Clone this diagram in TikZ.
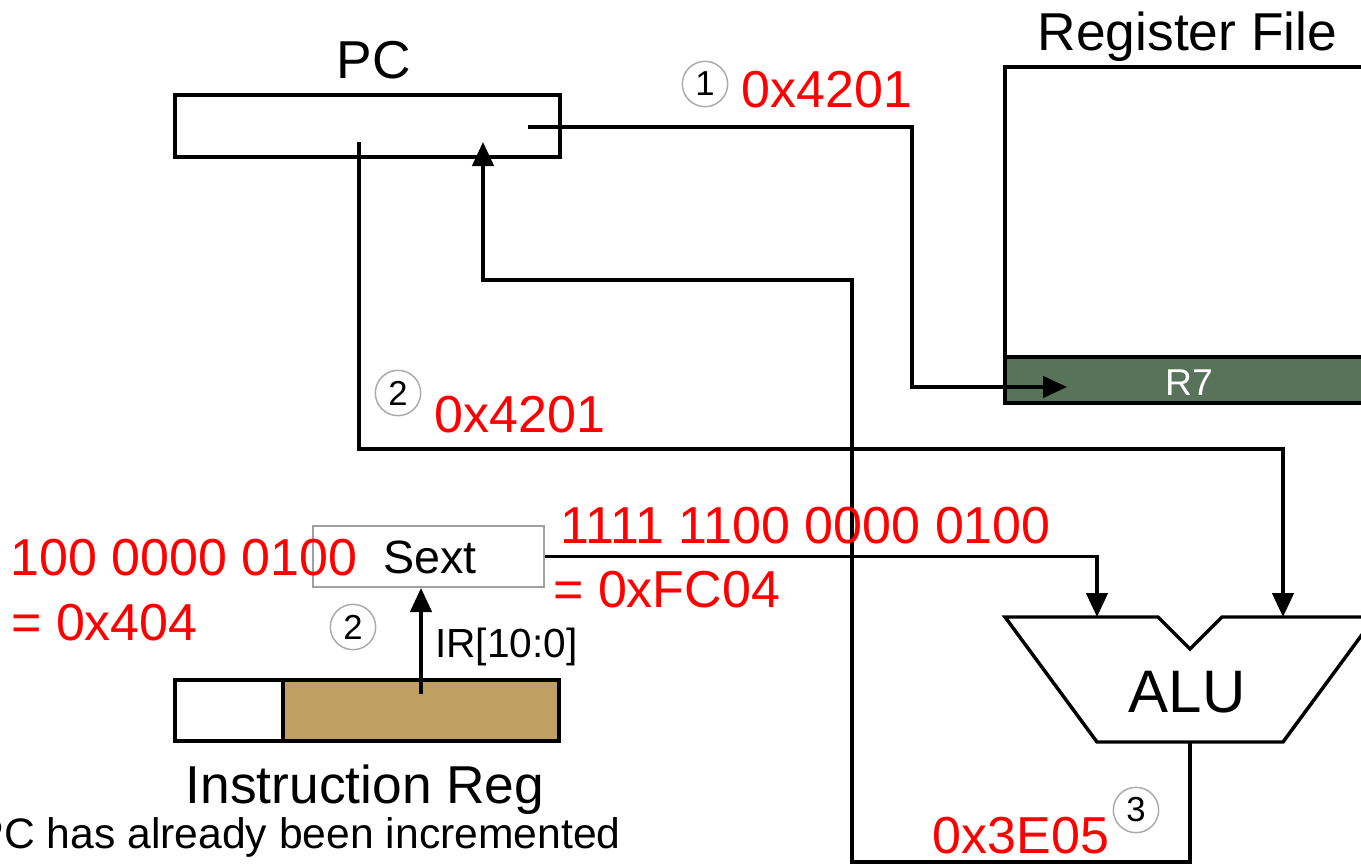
\documentclass[tikz,border=0pt]{standalone}
\usepackage{fontspec}
\setmainfont{Liberation Sans}
\usetikzlibrary{arrows.meta}
\definecolor{rfgreen}{RGB}{88,115,90}
\definecolor{irtan}{RGB}{192,160,98}
\definecolor{sextgray}{RGB}{160,160,160}
\definecolor{circgray}{RGB}{170,170,170}
\definecolor{valred}{RGB}{255,0,0}
\begin{document}
\begin{tikzpicture}[x=0.75pt,y=-0.75pt,
  wire/.style={draw=black,line width=2.6pt},
  arr/.style={wire,-{Triangle[length=18pt,width=16pt]}},
  regbox/.style={draw=black,line width=2.6pt,inner sep=0pt,rectangle},
  title/.style={font=\fontsize{40pt}{40pt}\selectfont,anchor=base,inner sep=0pt},
  val/.style={font=\fontsize{39pt}{39pt}\selectfont,text=valred,anchor=base,inner sep=0pt},
  lbl/.style={anchor=base,inner sep=0pt},
  stepnum/.style={circle,draw=circgray,line width=1.1pt,minimum size=34pt,inner sep=0pt,
    font=\fontsize{26pt}{26pt}\selectfont}]
\useasboundingbox (0,0) rectangle (1361,864);

% PC register
\node[regbox,minimum width=288.75pt,minimum height=46.5pt] (pc) at (367.5,126) {};
\node[title] (pclbl) at (374,78) {PC};

% Register file
\node[regbox,minimum width=296.25pt,minimum height=252pt] (rf) at (1202.5,235) {};
\node[regbox,fill=rfgreen,minimum width=296.25pt,minimum height=34.5pt] (r7) at (1202.5,380) {};
\node[lbl,text=white,font=\fontsize{28pt}{28pt}\selectfont] (r7lbl) at (1189,395) {R7};
\node[title] (rflbl) at (1187.5,50) {Register File};

% Sext
\node[rectangle,draw=sextgray,line width=1.5pt,minimum width=173.25pt,minimum height=45.75pt,inner sep=0pt] (sext) at (428.5,556.5) {};
\node[lbl,font=\fontsize{35pt}{35pt}\selectfont] (sextlbl) at (430,573) {Sext};

% Instruction register
\node[regbox,minimum width=81pt,minimum height=45.75pt] (irw) at (229,710.5) {};
\node[regbox,fill=irtan,minimum width=207pt,minimum height=45.75pt] (irt) at (421,710.5) {};
\node[title] (irlbl) at (365,803) {Instruction Reg};

% ALU
\draw[wire,line join=miter] (1005,617) -- (1158,617) -- (1190,649) -- (1222,617) -- (1375,617)
  -- (1283,742) -- (1097,742) -- cycle;
\node[lbl,font=\fontsize{45pt}{45pt}\selectfont] (alulbl) at (1187,712) {ALU};
\coordinate (aluinA) at (1097,617);
\coordinate (aluinB) at (1283,617);
\coordinate (aluout) at (1190,742);

% connector points
\coordinate (pcout1) at (528,127);
\coordinate (pcout2) at (359,142);
\coordinate (pcin) at (483,142);
\coordinate (r7in) at (1067,387);
\coordinate (j1) at (912,387);
\coordinate (j2) at (1283,449);
\coordinate (irout) at (421,694);
\coordinate (fb1) at (852,862);
\coordinate (fb2) at (852,280);

% connectors
\draw[arr] (pcout1) -| (j1) -- (r7in);
\draw[arr] (pcout2) |- (j2) -- (aluinB);
\draw[arr] (sext.east) -| (aluinA);
\draw[arr] (irout) -- (irout |- sext.south);
\draw[arr] (aluout) |- (fb1) -- (fb2) -| (pcin);

% step circles
\node[stepnum] (s1) at (705,84) {1};
\node[stepnum] (s2a) at (398,393) {2};
\node[stepnum] (s2b) at (353,627) {2};
\node[stepnum] (s3) at (1136,810) {3};

% labels
\node[lbl,font=\fontsize{30.5pt}{30.5pt}\selectfont,anchor=base west] (irbits) at (435,657) {IR[10:0]};
\node[val] (v1) at (827,107) {0x4201};
\node[val] (v2) at (520,432) {0x4201};
\node[val] (v3) at (805.5,543) {1111 1100 0000 0100};
\node[val,anchor=base west] (v4) at (553,607) {= 0xFC04};
\node[val,anchor=base west] (v5) at (10,575) {100 0000 0100};
\node[val,anchor=base west] (v6) at (11,640) {= 0x404};
\node[val] (v7) at (1021,853) {0x3E05};
\node[lbl,anchor=base east,font=\fontsize{32pt}{32pt}\selectfont] (note) at (621,848) {PC has already been incremented};
\end{tikzpicture}
\end{document}
